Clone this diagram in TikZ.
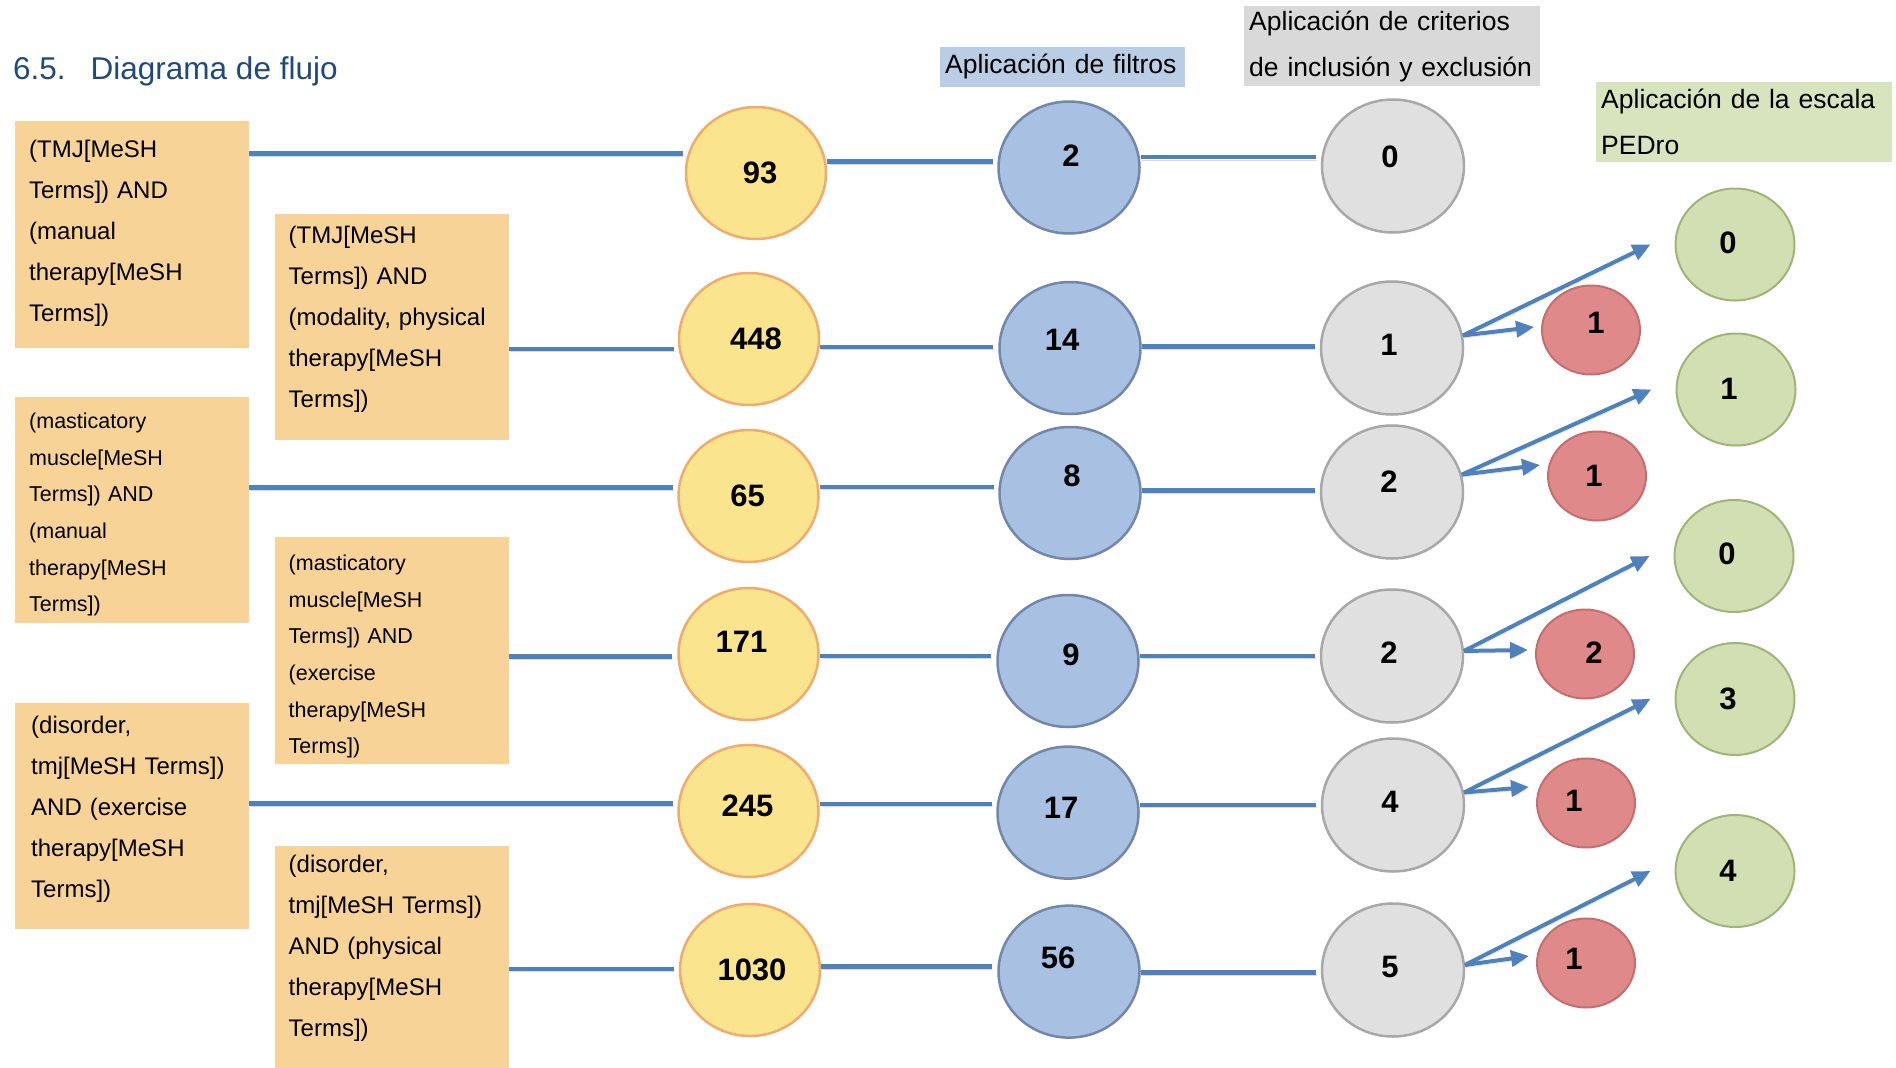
\documentclass[tikz,border=0pt]{standalone}
\usepackage{fontspec}
\setmainfont{Liberation Sans}
\usetikzlibrary{positioning,arrows.meta,shapes.geometric}
\definecolor{TitleBlue}{HTML}{1F497D}
\definecolor{LineBlue}{HTML}{4F81BD}
\definecolor{QueryOrange}{HTML}{F8D397}
\definecolor{HdrBlue}{HTML}{B9CDE5}
\definecolor{HdrGray}{HTML}{D9D9D9}
\definecolor{HdrGreen}{HTML}{D7E4BD}
\definecolor{YellowFill}{HTML}{FAE48E}
\definecolor{YellowEdge}{HTML}{F0AC6E}
\definecolor{BlueFill}{HTML}{A8C0E2}
\definecolor{BlueEdge}{HTML}{7287AA}
\definecolor{GrayFill}{HTML}{E0E0E0}
\definecolor{GrayEdge}{HTML}{A8A8A8}
\definecolor{RedFill}{HTML}{DF898A}
\definecolor{RedEdge}{HTML}{C46E6E}
\definecolor{GreenFill}{HTML}{D1DFB2}
\definecolor{GreenEdge}{HTML}{A0B47A}

\begin{document}
\begin{tikzpicture}[x=1pt, y=-1pt,
  heading/.style = {anchor=base west, inner sep=0pt, text=TitleBlue,
                    font=\fontsize{31.5}{31.5}\selectfont},
  hdr/.style     = {anchor=north west, inner xsep=5pt, inner ysep=0pt, align=left,
                    font=\fontsize{26.5}{46}\selectfont},
  query/.style   = {anchor=north west, fill=QueryOrange, text width=206pt,
                    inner xsep=14pt, inner ysep=0pt, align=left,
                    font=\fontsize{24}{41}\selectfont},
  qsmall/.style  = {query, font=\fontsize{21.5}{36.6}\selectfont},
  circ/.style    = {ellipse, inner sep=0pt, line width=2.5pt},
  ycirc/.style   = {circ, draw=YellowEdge, fill=YellowFill, minimum width=140pt, minimum height=132pt},
  bcirc/.style   = {circ, draw=BlueEdge, fill=BlueFill, minimum width=141pt, minimum height=132pt},
  gcirc/.style   = {circ, draw=GrayEdge, fill=GrayFill, minimum width=142pt, minimum height=133pt},
  rcirc/.style   = {circ, draw=RedEdge, fill=RedFill, line width=2pt, minimum width=98pt, minimum height=89pt},
  pcirc/.style   = {circ, draw=GreenEdge, fill=GreenFill, line width=2pt, minimum width=119pt, minimum height=112pt},
  num/.style     = {inner sep=0pt, font=\fontsize{31}{31}\selectfont\bfseries},
  link/.style    = {draw=LineBlue, line width=4.5pt, shorten >=5pt,
                    preaction={draw=black!15, transform canvas={xshift=1pt,yshift=-2.5pt}}},
  arr/.style     = {draw=LineBlue, line width=4pt, -{Triangle[length=18pt,width=16pt]},
                    preaction={draw=black!15, transform canvas={xshift=1pt,yshift=-2.5pt}}}
]
  \useasboundingbox (0,0) rectangle (1896,1068);

  \node[heading] (title) at (13,79) {6.5.\hspace{25pt}Diagrama de flujo};

  % column headers
  \node[hdr, fill=HdrBlue, text width=235pt, minimum height=40pt,
        text height=20pt, text depth=6pt] (hfil) at (940,46.5) {Aplicación de filtros};
  \node[hdr, fill=HdrGray, text width=286pt, minimum height=80pt] (hcrit) at (1244,6)
    {Aplicación de criterios\\de inclusión y exclusión};
  \node[hdr, fill=HdrGreen, text width=286pt, minimum height=80pt] (hped) at (1596,82)
    {Aplicación de la escala\\PEDro};

  % search strings
  \node[query, text height=36pt, text depth=191pt] (qa) at (15,121)
    {(TMJ[MeSH\\Terms]) AND\\(manual\\therapy[MeSH\\Terms])};
  \node[query, text height=29pt, text depth=197pt] (qb) at (274.5,214)
    {(TMJ[MeSH\\Terms]) AND\\(modality, physical\\therapy[MeSH\\Terms])};
  \node[qsmall, text height=31.5pt, text depth=194.5pt] (qc) at (15,397)
    {(masticatory\\muscle[MeSH\\Terms]) AND\\(manual\\therapy[MeSH\\Terms])};
  \node[qsmall, text height=33.5pt, text depth=193pt] (qd) at (274.5,537)
    {(masticatory\\muscle[MeSH\\Terms]) AND\\(exercise\\therapy[MeSH\\Terms])};
  \node[query, inner xsep=16pt, text width=202pt, text height=30pt, text depth=196pt] (qe) at (15,703)
    {(disorder,\\tmj[MeSH Terms])\\AND (exercise\\therapy[MeSH\\Terms])};
  \node[query, text height=26pt, text depth=230pt] (qf) at (274.5,846)
    {(disorder,\\tmj[MeSH Terms])\\AND (physical\\therapy[MeSH\\Terms])};

  % counts per stage
  \foreach \n/\x/\y/\lab/\dx/\dy in {1/756/173/93/4/0, 2/749/339/448/7/0, 3/748.5/496/65/-1/0,
      4/748.5/654/171/-7/12, 5/748.5/811/245/-1/5, 6/750/970/1030/2/0}
    \node[ycirc, label={[num,xshift=\dx,yshift=\dy]center:\lab}] (y\n) at (\x,\y) {};
  \foreach \n/\x/\y/\lab/\dx/\dy in {1/1069/167.5/2/2/12, 2/1070/348/14/-8/8, 3/1070/493/8/2/17,
      4/1068/661/9/3/6, 5/1068/812.6/17/-7/5, 6/1069/971.6/56/-11/14}
    \node[bcirc, label={[num,xshift=\dx,yshift=\dy]center:\lab}] (b\n) at (\x,\y) {};
  \foreach \n/\x/\y/\lab/\dx/\dy in {1/1393/166/0/-3/9, 2/1392/348/1/-3/3, 3/1392/492/2/-3/10,
      4/1392/656/2/-3/3, 5/1393/805/4/-3/3, 6/1393/970/5/-3/3}
    \node[gcirc, label={[num,xshift=\dx,yshift=\dy]center:\lab}] (g\n) at (\x,\y) {};
  \foreach \n/\x/\y/\lab/\dx/\dy in {1/1591/330/1/5/7, 2/1597/476/1/-3/0, 3/1585/654/2/9/1,
      4/1586/803/1/-12/2, 5/1586/963/1/-12/4}
    \node[rcirc, label={[num,xshift=\dx,yshift=\dy]center:\lab}] (r\n) at (\x,\y) {};
  \foreach \n/\x/\y/\lab/\dx/\dy in {1/1735/244.5/0/-7/2, 2/1736/389.5/1/-7/1, 3/1734/556/0/-7/2,
      4/1735/699/3/-7/0, 5/1735/871/4/-7/0}
    \node[pcirc, label={[num,xshift=\dx,yshift=\dy]center:\lab}] (p\n) at (\x,\y) {};

  % connectors
  \foreach \q/\n/\ang in {qa/1/164, qb/2/188, qc/3/173, qd/4/182, qe/5/174, qf/6/179}
    \draw[link] (\q.east |- y\n.\ang) -- (y\n.\ang);
  \foreach \n/\ang in {1/175, 2/179, 3/175, 4/176, 5/173, 6/176}
    \draw[link] (y\n.east |- b\n.\ang) -- (b\n.\ang);
  \foreach \n/\ang in {1/173, 2/179, 3/179, 4/180, 5/180, 6/182}
    \draw[link] (b\n.east |- g\n.\ang) -- (g\n.\ang);

  \foreach \n/\ang/\k/\s in {2/10/1/3, 3/14/2/11, 4/4/3/4, 5/10/4/16, 6/4/5/7}{
    \draw[arr] (g\n.\ang) -- ([xshift=-24pt]p\k.west);
    \draw[arr] (g\n.\ang) -- ([xshift=-7pt,yshift=\s]r\k.west);
  }
\end{tikzpicture}
\end{document}
